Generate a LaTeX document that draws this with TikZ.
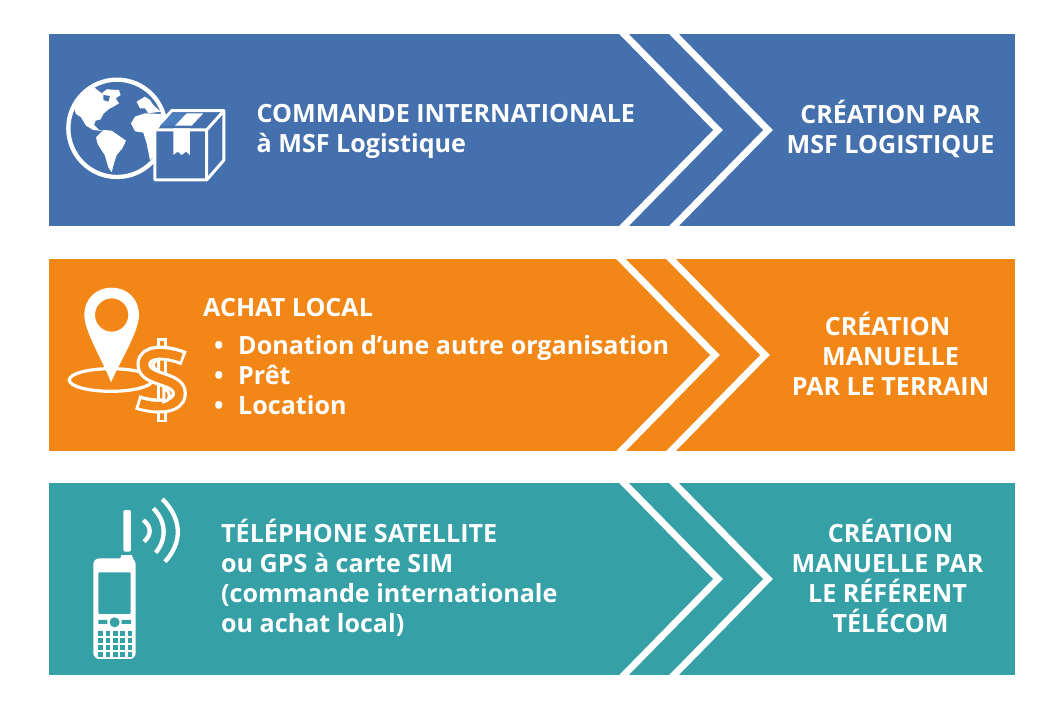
\documentclass[tikz,border=0pt]{standalone}
\usepackage{fontspec}
\setmainfont{Open Sans}
\definecolor{msfblue}{HTML}{4470AD}
\definecolor{msforange}{HTML}{F28717}
\definecolor{msfteal}{HTML}{35A1A6}
\definecolor{boxblue}{HTML}{4A80C0}
\tikzset{
	panel/.style={minimum width=966pt,minimum height=192pt,inner sep=0pt,outer sep=0pt},
	chevron/.style={draw=white,line width=6.8pt,miter limit=10,shorten <=-6pt,shorten >=-6pt},
	lefttext/.style={text=white,align=left,inner sep=0pt,font=\fontsize{25.1}{30}\selectfont\bfseries},
	righttext/.style={text=white,align=center,inner sep=0pt,font=\fontsize{25.1}{30}\selectfont\bfseries},
}
\begin{document}
\begin{tikzpicture}[x=1pt,y=-1pt]
\useasboundingbox (0,0) rectangle (1064,709);
\foreach \name/\yc/\col/\off in {panelA/130/msfblue/0, panelB/355/msforange/-3, panelC/579/msfteal/0} {
		\node[panel,fill=\col] (\name) at (532,\yc) {};
		\draw[chevron] ([xshift=575pt+\off pt]\name.north west) -- ([xshift=669pt+\off pt]\name.west) -- ([xshift=575pt+\off pt]\name.south west);
		\draw[chevron] ([xshift=625pt+\off pt]\name.north west) -- ([xshift=719pt+\off pt]\name.west) -- ([xshift=625pt+\off pt]\name.south west);
}

% texts
\node[lefttext,anchor=west] (orderA) at (256.5,131) {COMMANDE INTERNATIONALE\\à MSF Logistique};
\node[righttext] (makeA) at (890.5,129) {CRÉATION PAR\\MSF LOGISTIQUE};
\node[lefttext,anchor=base west] (orderB) at (203,316) {ACHAT LOCAL};
\foreach \y/\item in {354/Donation d’une autre organisation, 384/Prêt, 414/Location} {
		\node[lefttext,anchor=base west] (bullet\y) at (214,\y) {•};
		\node[lefttext,anchor=base west] (item\y) at (238,\y) {\item};
}
\node[righttext] (makeB) at (890.5,354) {CRÉATION\hspace*{6pt}\\MANUELLE\\PAR LE TERRAIN};
\node[lefttext,anchor=west] (orderC) at (221,578) {TÉLÉPHONE SATELLITE\\ou GPS à carte SIM\\(commande internationale\\ou achat local)};
\node[righttext] (makeC) at (887.5,576) {\hspace*{6pt}CRÉATION\\MANUELLE PAR\\LE RÉFÉRENT\\\hspace*{6pt}TÉLÉCOM};

% globe and box
\begin{scope}[shift={(50,60)},x=.3333pt,y=-.3333pt]
		\draw[white,line width=4.3pt] (201,205) circle[radius=146];
		\fill[white] (130,80) -- (155,100) -- (170,88) -- (207,90) -- (212,105) -- (197,115) -- (207,130) -- (187,142) -- (177,147) -- (160,162) -- (152,178) -- (137,182) -- (132,195) -- (147,210) -- (165,214) -- (130,210) -- (108,197) -- (93,172) -- (78,162) -- (70,140) -- (100,100) -- cycle;
		\fill[msfblue] (160,105) -- (180,108) -- (175,125) -- (160,120) -- cycle;
		\fill[white] (138,232) -- (160,210) -- (185,212) -- (228,242) -- (217,265) -- (200,285) -- (192,310) -- (185,337) -- (175,322) -- (164,285) -- (143,252) -- cycle;
		\fill[white] (260,125) -- (285,110) -- (300,120) -- (310,135) -- (332,155) -- (295,160) -- (285,145) -- (270,145) -- cycle;
		\fill[white] (243,190) -- (255,170) -- (285,160) -- (335,162) -- (345,170) -- (330,210) -- (320,240) -- (312,290) -- (300,300) -- (290,250) -- (280,218) -- (255,214) -- cycle;
		\draw[white,line width=3pt,line join=round,fill=msfblue] (315,210) -- (365,152) -- (522,152) -- (522,300) -- (470,360) -- (315,360) -- cycle;
		\draw[white,line width=3pt,line join=round] (315,210) -- (470,210) -- (522,152) (470,210) -- (470,360);
		\fill[boxblue] (330,197) -- (370,160) -- (410,160) -- (375,197) -- cycle;
		\fill[white] (375,197) -- (410,160) -- (460,160) -- (425,197) -- cycle;
		\fill[white] (370,205) -- (420,205) -- (420,285) -- (408,275) -- (395,285) -- (383,275) -- (370,285) -- cycle;
		\fill[msfblue] (430,197) -- (470,160) -- (505,160) -- (465,197) -- cycle;
\end{scope}

% pin and dollar
\begin{scope}[shift={(50,275)},x=.3333pt,y=-.3333pt]
		\draw[white,line width=3.2pt] (183,315) ellipse[x radius=125,y radius=34];
		\fill[white,even odd rule] (103,120) .. controls (103,70) and (140,38) .. (185,38) .. controls (230,38) and (267,70) .. (267,120) .. controls (267,170) and (210,260) .. (183,322) .. controls (160,260) and (103,170) .. (103,120) -- cycle (185,120) circle[radius=50];
		\draw[white,line width=9.5pt] (336,190) -- (336,442);
		\draw[msforange,line width=3.5pt] (336,198) -- (336,434);
		\draw[white,line width=15pt] (402,250) .. controls (350,228) and (282,225) .. (282,268) .. controls (282,320) and (388,305) .. (388,355) .. controls (388,402) and (310,398) .. (262,382);
		\draw[msforange,line width=8.6pt] (394,247) .. controls (350,231) and (282,225) .. (282,268) .. controls (282,320) and (388,305) .. (388,355) .. controls (388,402) and (310,398) .. (270,385);
		\draw[white,line width=3pt,fill=msforange] (326,254) -- (326,288) .. controls (305,280) and (303,260) .. cycle;
		\draw[white,line width=3pt,fill=msforange] (342,340) -- (342,380) .. controls (362,376) and (366,352) .. cycle;
\end{scope}

% phone
\begin{scope}[shift={(70,490)},x=.3333pt,y=-.3333pt]
		\fill[white,rounded corners=6pt] (70,205) rectangle (197,507);
		\fill[white] (150,207) -- (155,195) -- (185,195) -- (192,212) -- cycle;
		\fill[white,rounded corners=2pt] (160,60) rectangle (183,185);
		\fill[msfteal,rounded corners=1pt] (85,247) rectangle (182,372);
		\fill[msfteal] (85,390) rectangle (112,402) (155,390) rectangle (183,402);
		\fill[msfteal] (134,397) circle[radius=15];
		\foreach \col in {0,...,4} {
				\foreach \row in {0,...,3} {
						\fill[msfteal] (85+\col*22,422+\row*21) rectangle ++(14,15);
				}
		}
		\draw[white,line width=4.3pt] (220,90) .. controls (245,110) and (245,135) .. (222,155);
		\draw[white,line width=4.3pt] (250,55) .. controls (290,95) and (290,150) .. (257,188);
		\draw[white,line width=4.3pt] (277,27) .. controls (335,85) and (340,155) .. (285,215);
\end{scope}
\end{tikzpicture}
\end{document}
